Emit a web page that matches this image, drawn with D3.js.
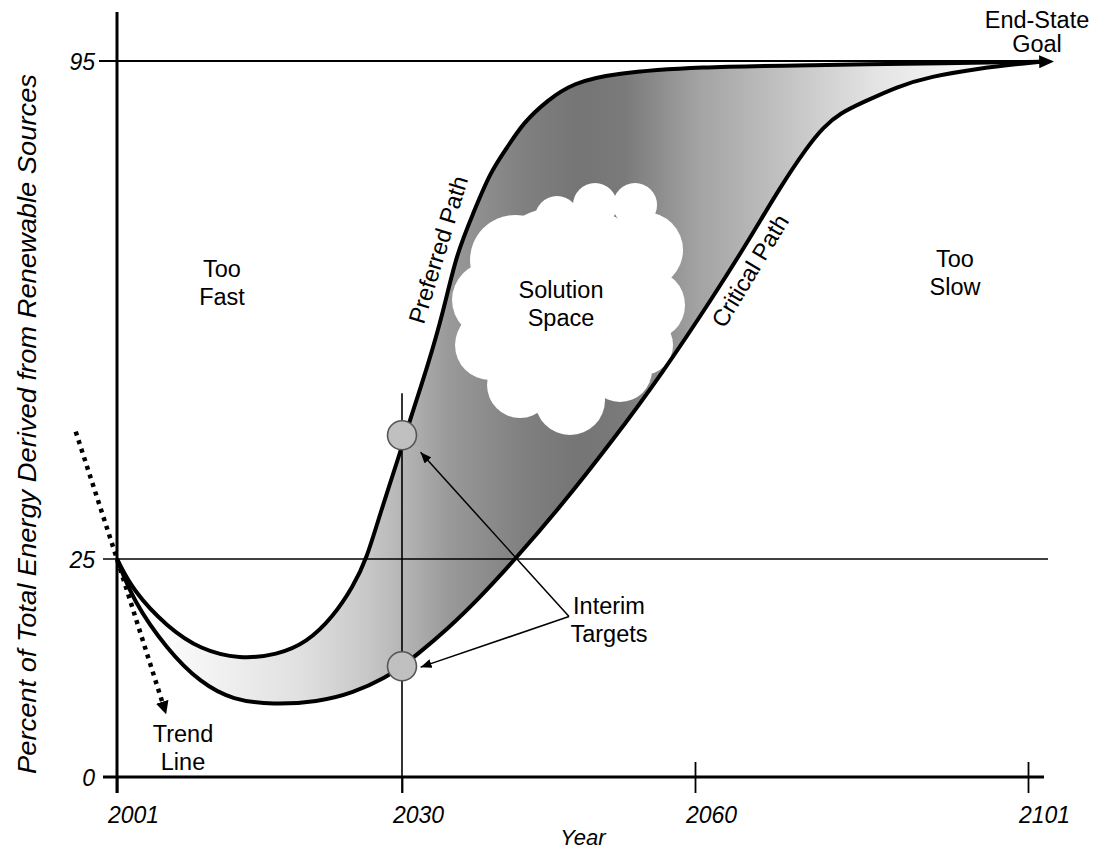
<!DOCTYPE html>
<html>
<head>
<meta charset="utf-8">
<script src="https://cdn.jsdelivr.net/npm/d3@7"></script>
<style>
  body { margin: 0; background: #fff; }
  svg { display: block; }
  text { font-family: "Liberation Sans", Arial, Helvetica, sans-serif; fill: #000; }
</style>
</head>
<body>
<svg id="chart" width="1100" height="850"></svg>
<script>
// ---- data -------------------------------------------------------------
const yearTicks = [2001, 2030, 2060, 2101];
const pctTicks = [0, 25, 95];

// Preferred (fast) transition path: [year, percent renewable]
const preferredPath = [
  [2001, 25], [2002.6, 21.4], [2006.1, 17.2], [2009.5, 14.6], [2013.5, 13.5],
  [2017.3, 14.0], [2020.3, 15.4], [2023.0, 18.4], [2025.0, 21.8], [2026.4, 25],
  [2027.8, 31.5], [2029.8, 39.9], [2030.8, 44.5], [2032.6, 52.0], [2034.2, 59.6],
  [2035.6, 68.0], [2037.3, 73.6], [2039.0, 79.3], [2040.8, 82.9], [2042.4, 86.3],
  [2044.9, 89.5], [2047.5, 91.9], [2051.6, 93.3], [2060.6, 94.2], [2073.5, 94.4],
  [2091.9, 94.7], [2102.5, 94.9]
];

// Critical (slowest acceptable) path
const criticalPath = [
  [2001, 25], [2002.6, 20.3], [2006.1, 14.6], [2009.5, 10.8], [2012.8, 8.8],
  [2016.9, 8.3], [2021.4, 8.6], [2025.0, 9.6], [2028.5, 11.5], [2030, 12.7],
  [2031.5, 14.0], [2034.6, 16.9], [2038.0, 20.6], [2041.6, 25], [2046.2, 32.3],
  [2051.6, 41.7], [2056.7, 51.2], [2062.2, 61.8], [2066.4, 69.4], [2070.5, 77.3],
  [2073.8, 82.9], [2075.8, 85.7], [2077.9, 87.7], [2080.7, 89.2], [2084.9, 91.4],
  [2088.9, 92.8], [2095.1, 94.0], [2100.9, 94.7], [2102.5, 94.9]
];

// Current trend, continuing downward
const trendLine = [[1996.8, 42.9], [2001, 25], [2006.0, 7.2]];

// Interim targets at 2030 on each path
const interimTargets = [[2030, 42.4], [2030, 12.7]];
const interimArrowTips = [[2031.9, 40.0], [2031.9, 12.6]];
const interimLabelAnchor = [2047.1, 18.4];

// Centre of the solution-space cloud
const cloudCenter = [2047.0, 60.7];

// ---- scales -----------------------------------------------------------
const svg = d3.select("#chart");
const x = d3.scaleLinear().domain(yearTicks).range([117, 402, 695, 1028]);
const y = d3.scaleLinear().domain(pctTicks).range([777, 559, 61]);

const line = d3.line()
  .x(d => x(d[0]))
  .y(d => y(d[1]))
  .curve(d3.curveBasis);

const defs = svg.append("defs");

// horizontal shading of the band between the two paths
const grad = defs.append("linearGradient")
  .attr("id", "bandShade")
  .attr("gradientUnits", "userSpaceOnUse")
  .attr("x1", x(2001)).attr("x2", x(2102.5))
  .attr("y1", 0).attr("y2", 0);
[
  [0.00, "#ffffff"], [0.06, "#fafafa"], [0.20, "#e0e0e0"], [0.27, "#c8c8c8"],
  [0.31, "#b5b5b5"], [0.36, "#999999"], [0.44, "#808080"], [0.50, "#757575"],
  [0.55, "#7a7a7a"], [0.63, "#a3a3a3"], [0.74, "#c8c8c8"], [0.82, "#e3e3e3"],
  [0.90, "#f3f3f3"], [1.00, "#ffffff"]
].forEach(([o, c]) => grad.append("stop").attr("offset", o).attr("stop-color", c));

function addMarker(id, len, half, refX) {
  defs.append("marker")
    .attr("id", id)
    .attr("markerUnits", "userSpaceOnUse")
    .attr("viewBox", `0 ${-half} ${len} ${2 * half}`)
    .attr("markerWidth", len)
    .attr("markerHeight", 2 * half)
    .attr("refX", refX)
    .attr("refY", 0)
    .attr("orient", "auto")
    .append("path")
    .attr("d", `M0,${-half}L${len},0L0,${half}Z`)
    .attr("fill", "#000");
}
addMarker("goalHead", 15, 6.5, 1);
addMarker("trendHead", 13, 6.5, 13);
addMarker("noteHead", 11, 4.5, 11);

// ---- band between the paths -------------------------------------------
const upperD = line(preferredPath);
const lowerRevD = line(criticalPath.slice().reverse());
svg.append("path")
  .attr("d", upperD + "L" + lowerRevD.slice(1) + "Z")
  .attr("fill", "url(#bandShade)")
  .attr("stroke", "none");

// ---- reference lines (drawn over the shading) -------------------------
const grid = svg.append("g").attr("stroke", "#000").attr("fill", "none");
grid.append("line")
  .attr("x1", 99).attr("x2", x(2102.5))
  .attr("y1", y(95)).attr("y2", y(95))
  .attr("stroke-width", 1.8);
grid.append("line")
  .attr("x1", 103).attr("x2", 1048)
  .attr("y1", y(25)).attr("y2", y(25))
  .attr("stroke-width", 1.6);
grid.append("line")
  .attr("x1", x(2030)).attr("x2", x(2030))
  .attr("y1", y(interimTargets[0][1]) - 42).attr("y2", y(0) + 16)
  .attr("stroke-width", 1.6);

// ---- solution-space cloud ---------------------------------------------
const cx = x(cloudCenter[0]), cy = y(cloudCenter[1]);
const lobes = [
  [0, 0, 100], [-53, -45, 45], [-11, -87, 22], [27, -100, 22], [67, -100, 22],
  [77, -55, 38], [82, 0, 35], [75, 40, 30], [52, 65, 32], [2, 95, 35],
  [-48, 80, 33], [-78, 40, 35], [-78, -5, 38]
];
svg.append("g").attr("fill", "#fff")
  .selectAll("circle").data(lobes).join("circle")
  .attr("cx", d => cx + d[0])
  .attr("cy", d => cy + d[1])
  .attr("r", d => d[2]);

// ---- the two paths ----------------------------------------------------
svg.append("path")
  .attr("d", line(criticalPath))
  .attr("fill", "none").attr("stroke", "#000").attr("stroke-width", 4)
  .attr("stroke-linejoin", "round");
svg.append("path")
  .attr("d", upperD)
  .attr("fill", "none").attr("stroke", "#000").attr("stroke-width", 4)
  .attr("stroke-linejoin", "round")
  .attr("marker-end", "url(#goalHead)");

// ---- axes -------------------------------------------------------------
svg.append("line")
  .attr("x1", x(2001)).attr("x2", x(2001))
  .attr("y1", 12).attr("y2", y(0) + 16)
  .attr("stroke", "#000").attr("stroke-width", 3);
svg.append("line")
  .attr("x1", 103).attr("x2", 1044)
  .attr("y1", y(0)).attr("y2", y(0))
  .attr("stroke", "#000").attr("stroke-width", 3);

const xAxis = svg.append("g")
  .attr("transform", `translate(0,${y(0)})`)
  .call(d3.axisBottom(x).tickValues(yearTicks).tickFormat(d3.format("d"))
    .tickSizeInner(16).tickSizeOuter(0).tickPadding(14));
xAxis.select(".domain").remove();
xAxis.selectAll(".tick line")
  .attr("y1", d => (d === 2060 || d === 2101) ? -15 : 0)
  .attr("stroke", "#000").attr("stroke-width", 1.8);
xAxis.selectAll(".tick text")
  .attr("dx", 16)
  .style("font-size", "23px").style("font-style", "italic")
  .style("font-family", '"Liberation Sans", Arial, sans-serif');

const yAxis = svg.append("g")
  .attr("transform", `translate(${x(2001)},0)`)
  .call(d3.axisLeft(y).tickValues(pctTicks).tickFormat(d3.format("d"))
    .tickSize(0).tickPadding(22));
yAxis.select(".domain").remove();
yAxis.selectAll(".tick text")
  .attr("dy", "0.36em")
  .style("font-size", "23px").style("font-style", "italic")
  .style("font-family", '"Liberation Sans", Arial, sans-serif');

// ---- interim targets --------------------------------------------------
const ax = x(interimLabelAnchor[0]), ay = y(interimLabelAnchor[1]);
svg.append("g")
  .selectAll("line").data(interimArrowTips).join("line")
  .attr("x1", ax).attr("y1", ay)
  .attr("x2", d => x(d[0])).attr("y2", d => y(d[1]))
  .attr("stroke", "#000").attr("stroke-width", 1.5)
  .attr("marker-end", "url(#noteHead)");

svg.append("g")
  .selectAll("circle").data(interimTargets).join("circle")
  .attr("cx", d => x(d[0]))
  .attr("cy", d => y(d[1]))
  .attr("r", 14.5)
  .attr("fill", "#c0c0c0")
  .attr("stroke", "#555")
  .attr("stroke-width", 1.6);

// ---- trend line -------------------------------------------------------
svg.append("path")
  .attr("d", d3.line().x(d => x(d[0])).y(d => y(d[1]))(trendLine))
  .attr("fill", "none").attr("stroke", "#000")
  .attr("stroke-width", 4.5).attr("stroke-dasharray", "4 5")
  .attr("marker-end", "url(#trendHead)");

// ---- text -------------------------------------------------------------
function label(lines, px, py, opts = {}) {
  const t = svg.append("text")
    .attr("x", px).attr("y", py)
    .attr("text-anchor", opts.anchor || "middle")
    .style("font-size", (opts.size || 23.5) + "px")
    .style("font-style", opts.italic ? "italic" : "normal");
  if (opts.rotate !== undefined) t.attr("transform", `rotate(${opts.rotate},${px},${py})`);
  lines.forEach((s, i) => {
    const ts = t.append("tspan").attr("x", px).attr("dy", i === 0 ? 0 : (opts.lead || 28)).text(s);
    if (opts.span) ts.attr("textLength", opts.span).attr("lengthAdjust", "spacingAndGlyphs");
  });
  return t;
}

label(["Too", "Fast"], 222, 277);
label(["Solution", "Space"], 561, 298);
label(["Too", "Slow"], 955, 267);
label(["Interim", "Targets"], 609, 614);
label(["Trend", "Line"], 183, 742);
label(["End-State", "Goal"], 1037, 28, { lead: 24 });
label(["Preferred Path"], 446, 252, { rotate: -73 });
label(["Critical Path"], 757, 275, { rotate: -59 });
label(["Year"], 583, 845, { italic: true, size: 22 });
label(["Percent of Total Energy Derived from Renewable Sources"], 36, 424,
  { italic: true, size: 25, rotate: -90, span: 700 });
</script>
</body>
</html>
